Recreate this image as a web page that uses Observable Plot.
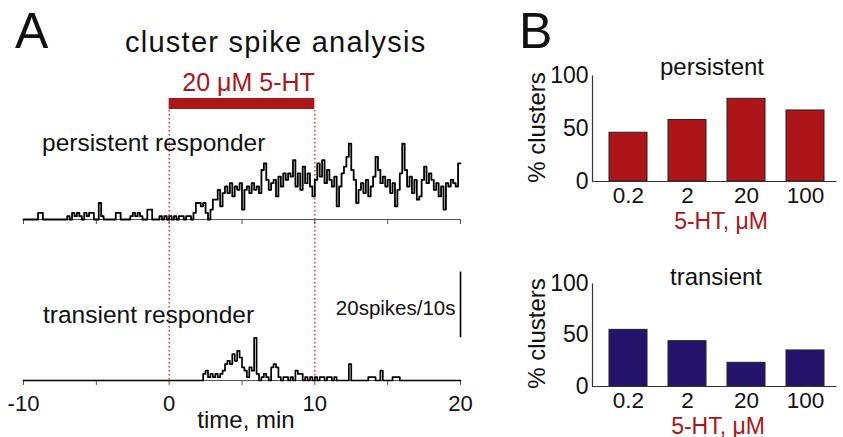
<!DOCTYPE html>
<html><head><meta charset="utf-8">
<script src="https://cdn.jsdelivr.net/npm/d3@7"></script>
<script src="https://cdn.jsdelivr.net/npm/@observablehq/plot@0.6"></script>
<style>
html,body{margin:0;padding:0;background:#fff;}
#chart{position:relative;width:843px;height:437px;overflow:hidden;background:#fff;font-family:"Liberation Sans",Arial,sans-serif;}
#chart > svg{position:absolute;}
</style></head>
<body><div id="chart"></div>
<script>
// ---- data ----
const binStartMin = -10;          // first 10-s bin starts at -10 min
const binWidthMin = 1 / 6;        // 10 s bins
const endMin = 20;
const timeTicks = [-10, -5, 0, 5, 10, 15, 20];
const timeTickLabels = [-10, 0, 10, 20];
const treatment = {start: 0, end: 10, label: "20 \u03bcM 5-HT"};
const scaleBarSpikes = 20;
const scaleBarLabel = "20spikes/10s";

// spikes per 10 s, persistent responder
const persistentCounts = [
  0,0,0,0,0,0, 2,2,0,0,0,0, 0,0,0,0,0,0, 1,0,2,1,2,1, 0,2,1,2,2,0,
  0,5,1,0,0,0, 0,0,2,2,0,0, 0,0,1,2,1,2, 1,0,0,3,3,0, 0,0,1,0,1,0,
  1,0,1,0,1,1, 0,1,1,0,2,5, 5,4,5,2,0,3, 6,6,9,4,8,10, 8,11,7,10,9,11,
  3,9,10,8,11,9, 10,8,15,17,12,9, 11,12,7,13,10,14, 12,14,13,18,10,14, 9,16,11,14,10,7,
  12,17,13,18,11,15, 12,10,13,4,10,14, 16,19,23,15,12,5, 9,11,8,12,7,10, 13,19,15,11,13,10,
  12,8,11,4,9,14, 23,15,10,13,8,12, 6,7,12,16,11,14, 12,9,11,7,10,3, 11,10,12,11,10,17
];
// spikes per 10 s, transient responder
const transientCounts = [
  0,0,0,0,0,0,0,0,0,0,0,0, 0,0,0,0,0,0,0,0,0,0,0,0, 0,0,0,0,0,0,0,0,0,0,0,0,
  0,0,0,0,0,0,0,0,0,0,0,0, 0,0,0,0,0,0,0,0,0,0,0,0, 0,0,0,0,0,0,0,0,0,0,0,0,
  0,0,2,3,1,2, 1,2,1,2,3,5, 6,5,8,6,9,7, 4,3,1,4,3,13, 2,0,1,2,1,0,
  4,5,4,1,0,1, 1,0,1,0,3,2, 2,0,1,0,1,0, 1,0,1,1,0,1, 1,0,1,0,0,0,
  0,0,5,0,0,0, 0,0,0,0,1,1, 1,0,0,3,0,0, 0,0,1,1,1,0,
  0,0,0,0,0,0,0,0,0,0,0,0, 0,0,0,0,0,0,0,0,0,0,0,0
];

const concentrations = ["0.2", "2", "20", "100"];
const persistentPct = [46, 58, 78, 67];
const transientPct = [55, 44, 23, 35];
const pctTicks = [0, 50, 100];

// ---- helpers ----
const FONT = "Liberation Sans, Arial, sans-serif";
const RED = "#ad1519";
const BLUE = "#24146b";
const chart = document.getElementById("chart");
function place(svg, left, top) {
  svg.style.left = left + "px";
  svg.style.top = top + "px";
  chart.appendChild(svg);
}
const baseStyle = {background: "transparent", overflow: "visible", fontFamily: FONT, color: "#111"};
function stairs(counts) {
  const rows = counts.map((v, i) => ({t: binStartMin + i * binWidthMin, v}));
  rows.push({t: endMin, v: counts[counts.length - 1]});
  return rows;
}
const xA = {domain: [binStartMin, endMin], label: null};
const xAnoAxis = {domain: [binStartMin, endMin], label: null, axis: null};

// ---- panel A: treatment bar + label ----
place(Plot.plot({
  width: 480, height: 49, marginLeft: 23, marginRight: 20, marginTop: 38, marginBottom: 0,
  x: xAnoAxis, style: baseStyle,
  marks: [
    Plot.rect([treatment], {x1: "start", x2: "end", fill: RED}),
    Plot.text([treatment], {x: "end", text: "label", frameAnchor: "top", dy: -8, lineAnchor: "bottom",
      textAnchor: "end", fontSize: 25, fill: RED})
  ]
}), 0, 60);

// dotted treatment boundaries
place(Plot.plot({
  width: 480, height: 271, marginLeft: 23, marginRight: 20, marginTop: 0, marginBottom: 0,
  x: xAnoAxis, style: baseStyle,
  marks: [
    Plot.ruleX([treatment.start, treatment.end], {stroke: "#e8251f", strokeWidth: 1.3, strokeDasharray: "1.4,2.6"})
  ]
}), 0, 110);

// persistent responder trace
place(Plot.plot({
  width: 480, height: 114, marginLeft: 23, marginRight: 20, marginTop: 0, marginBottom: 15,
  x: xA, y: {domain: [0, 30], axis: null}, style: baseStyle,
  marks: [
    Plot.ruleY([0], {stroke: "#555", strokeWidth: 1.2}),
    Plot.axisX({ticks: timeTicks, tickSize: 5, tickFormat: () => "", stroke: "#555"}),
    Plot.line(stairs(persistentCounts), {x: "t", y: "v", curve: "step-after", stroke: "#000", strokeWidth: 1.8})
  ]
}), 0, 120);

// transient responder trace + time axis + scale bar
place(Plot.plot({
  width: 480, height: 172, marginLeft: 23, marginRight: 20, marginTop: 0, marginBottom: 57,
  x: xA, y: {domain: [0, 35], axis: null}, style: baseStyle,
  marks: [
    Plot.ruleY([0], {stroke: "#555", strokeWidth: 1.2}),
    Plot.axisX({ticks: timeTicks, tickSize: 5, tickFormat: () => "", stroke: "#555"}),
    Plot.axisX({ticks: timeTickLabels, tickSize: 0, tickPadding: 15, fontSize: 22, tickFormat: d => String(d)}),
    Plot.line(stairs(transientCounts), {x: "t", y: "v", curve: "step-after", stroke: "#000", strokeWidth: 1.7}),
    Plot.ruleX([endMin], {y1: 13, y2: 13 + scaleBarSpikes, stroke: "#000", strokeWidth: 1.6}),
    Plot.text([scaleBarLabel], {x: endMin, y: 20, text: d => d, dx: -5, textAnchor: "end",
      lineAnchor: "bottom", fontSize: 20.5, fill: "#111"})
  ]
}), 0, 265);

// ---- panel B bar charts ----
function barPanel(values, fill, top, height, marginTop, marginBottom) {
  const w = 323 - 72 - 7, h = height - marginTop - marginBottom;
  const rows = concentrations.map((c, i) => ({c, p: values[i]}));
  return place(Plot.plot({
    width: 323, height, marginLeft: 72, marginRight: 7, marginTop, marginBottom,
    x: {domain: concentrations, paddingInner: 0.36, paddingOuter: 0.22, align: 0.58, label: null},
    y: {domain: [0, 100], label: null},
    style: baseStyle,
    marks: [
      Plot.barY(rows, {x: "c", y: "p", fill, stroke: "#222", strokeWidth: 1}),
      Plot.frame({stroke: "#333", strokeWidth: 1.2, strokeDasharray: `0 ${w + h} ${w + h}`}),
      Plot.axisY({ticks: pctTicks, tickSize: 0, tickPadding: 4, fontSize: 23}),
      Plot.axisX({tickSize: 0, tickPadding: 6, fontSize: 22.5})
    ]
  }), 520, top);
}
barPanel(persistentPct, RED, 50, 190, 25, 59);
barPanel(transientPct, BLUE, 255, 182, 28, 51);

// ---- titles and labels ----
const labels = [
  {t: "A", x: 15, y: 48, size: 50},
  {t: "B", x: 519, y: 48, size: 50},
  {t: "cluster spike analysis", x: 125, y: 52, size: 29, ls: 1.25},
  {t: "persistent responder", x: 42, y: 151, size: 24.5},
  {t: "transient responder", x: 43, y: 323, size: 24.5},
  {t: "time, min", x: 246, y: 428, size: 24, anchor: "middle"},
  {t: "persistent", x: 712, y: 75, size: 24, anchor: "middle"},
  {t: "transient", x: 716, y: 285, size: 24, anchor: "middle"},
  {t: "% clusters", x: 545, y: 127.5, size: 24, anchor: "middle", rot: true},
  {t: "% clusters", x: 545, y: 333.5, size: 24, anchor: "middle", rot: true},
  {t: "5-HT, \u03bcM", x: 721, y: 228.5, size: 23, anchor: "middle", fill: RED},
  {t: "5-HT, \u03bcM", x: 718, y: 433.5, size: 23, anchor: "middle", fill: RED}
];
const overlay = d3.create("svg").attr("width", 843).attr("height", 437)
  .style("left", "0px").style("top", "0px").style("pointer-events", "none")
  .attr("font-family", FONT);
overlay.selectAll("text").data(labels).join("text")
  .attr("transform", d => `translate(${d.x},${d.y})` + (d.rot ? " rotate(-90)" : ""))
  .attr("text-anchor", d => d.anchor || "start")
  .attr("font-size", d => d.size)
  .attr("letter-spacing", d => d.ls || 0)
  .attr("fill", d => d.fill || "#111")
  .text(d => d.t);
chart.appendChild(overlay.node());
</script>
</body></html>
